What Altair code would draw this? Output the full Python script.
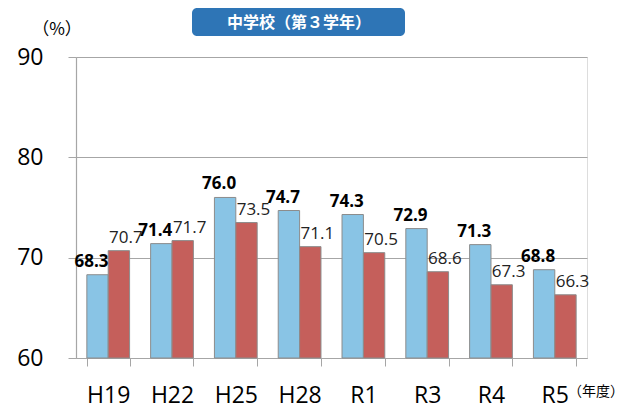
import altair as alt
import pandas as pd

years = ["H19", "H22", "H25", "H28", "R1", "R3", "R4", "R5"]
blue_vals = [68.3, 71.4, 76.0, 74.7, 74.3, 72.9, 71.3, 68.8]
red_vals = [70.7, 71.7, 73.5, 71.1, 70.5, 68.6, 67.3, 66.3]
series = ["本県", "全国"]
title_text = "中学校（第３学年）"
y_unit = "（%）"
x_unit = "（年度）"
y_ticks = [60, 70, 80, 90]

df = pd.DataFrame({
    "year": years * 2,
    "series": [series[0]] * len(years) + [series[1]] * len(years),
    "value": blue_vals + red_vals,
})

FONT = "Open Sans"
GRID = "#A6A6A6"

x_enc = alt.X(
    "year:N", sort=years,
    scale=alt.Scale(paddingInner=0.33, paddingOuter=0.17),
    axis=alt.Axis(title=None, labelAngle=0, labelFontSize=23, labelColor="black",
                  labelFont=FONT, tickBand="extent", tickSize=8, tickColor=GRID,
                  domainColor=GRID, domainWidth=1.2, labelPadding=18, grid=False),
)
y_enc = alt.Y(
    "value:Q",
    scale=alt.Scale(domain=[60, 90], nice=False, zero=False),
    axis=alt.Axis(values=y_ticks, title=None, labelFontSize=23, labelColor="black",
                  labelFont=FONT, tickSize=8, tickColor=GRID, labelPadding=25,
                  gridColor=GRID, gridWidth=1.2, domainColor=GRID, domainWidth=1.2),
)
xo_enc = alt.XOffset("series:N", sort=series, scale=alt.Scale(paddingInner=0))

base = alt.Chart(df)

bars = base.mark_bar(stroke="#8C8C8C", strokeWidth=1).encode(
    x=x_enc, xOffset=xo_enc, y=y_enc, y2=alt.datum(60),
    color=alt.Color("series:N", sort=series,
                    scale=alt.Scale(domain=series, range=["#89C4E5", "#C55F5B"]),
                    legend=None),
)

blue_text = base.transform_filter(alt.datum.series == series[0]).mark_text(
    font=FONT, fontSize=17, fontWeight="bold", baseline="alphabetic", dy=-8, dx=-6,
    color="black",
).encode(x=x_enc, xOffset=xo_enc, y=y_enc, text=alt.Text("value:Q", format=".1f"))

red_text = base.transform_filter(alt.datum.series == series[1]).mark_text(
    font=FONT, fontSize=17, baseline="alphabetic", dy=-8, dx=7, color="#222222",
).encode(x=x_enc, xOffset=xo_enc, y=y_enc, text=alt.Text("value:Q", format=".1f"))

ann = alt.Chart(pd.DataFrame({"t": [title_text]}))
title_box = ann.mark_rect(color="#2E75B6", cornerRadius=5).encode(
    x=alt.value(116), x2=alt.value(329), y=alt.value(-49), y2=alt.value(-21))
title_lbl = ann.mark_text(font="Noto Sans CJK JP", fontSize=16, fontWeight="bold",
                          color="white", baseline="middle").encode(
    x=alt.value(223), y=alt.value(-34), text=alt.value(title_text))
yunit_lbl = ann.mark_text(font="Noto Sans CJK JP", fontSize=17, color="black",
                          baseline="middle").encode(
    x=alt.value(-19), y=alt.value(-27), text=alt.value(y_unit))
xunit_lbl = ann.mark_text(font="Noto Sans CJK JP", fontSize=14, color="black",
                          baseline="middle", align="left").encode(
    x=alt.value(492), y=alt.value(335), text=alt.value(x_unit))

chart = alt.layer(bars, blue_text, red_text, title_box, title_lbl, yunit_lbl, xunit_lbl).properties(
    width=511, height=301,
    autosize=alt.AutoSizeParams(type="none"),
    padding={"left": 68, "top": 49, "right": 40, "bottom": 52},
).configure_view(stroke=GRID, strokeWidth=1.2).configure(background="white")

chart.save("out.html", embed_options={"renderer": "svg", "actions": False})
